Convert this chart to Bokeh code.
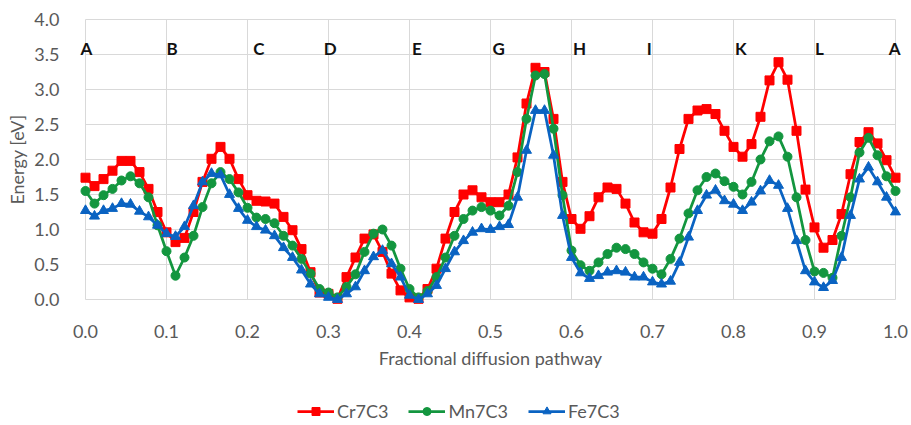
import numpy as np
from bokeh.plotting import figure
from bokeh.models import (ColumnDataSource, FixedTicker, Legend, LegendItem,
                          Range1d, NumeralTickFormatter)
from bokeh.core.properties import value
from bokeh.embed import file_html
from bokeh.resources import INLINE

# ---- data ----
cr7c3 = [1.74, 1.62, 1.72, 1.84, 1.98, 1.98, 1.82, 1.58, 1.25, 0.96,
         0.82, 0.88, 1.25, 1.68, 2.01, 2.18, 2.01, 1.72, 1.49, 1.41,
         1.40, 1.37, 1.18, 0.99, 0.72, 0.39, 0.10, 0.08, 0.01, 0.32,
         0.60, 0.87, 0.93, 0.68, 0.37, 0.13, 0.03, 0.01, 0.15, 0.44,
         0.87, 1.25, 1.50, 1.56, 1.46, 1.39, 1.39, 1.50, 2.03, 2.80,
         3.31, 3.25, 2.58, 1.68, 1.15, 1.01, 1.19, 1.46, 1.60, 1.58,
         1.37, 1.10, 0.96, 0.94, 1.15, 1.60, 2.15, 2.58, 2.70, 2.72,
         2.65, 2.41, 2.18, 2.04, 2.22, 2.61, 3.13, 3.39, 3.14, 2.41,
         1.57, 1.03, 0.74, 0.85, 1.22, 1.79, 2.25, 2.39, 2.23, 1.99,
         1.74]
mn7c3 = [1.55, 1.37, 1.49, 1.58, 1.70, 1.76, 1.66, 1.46, 1.06, 0.69,
         0.34, 0.60, 0.91, 1.32, 1.66, 1.82, 1.72, 1.53, 1.31, 1.17,
         1.15, 1.09, 0.91, 0.77, 0.58, 0.37, 0.15, 0.10, 0.03, 0.18,
         0.36, 0.68, 0.94, 1.00, 0.77, 0.44, 0.15, 0.03, 0.12, 0.32,
         0.60, 0.91, 1.15, 1.27, 1.32, 1.27, 1.20, 1.34, 1.82, 2.58,
         3.20, 3.22, 2.44, 1.49, 0.70, 0.49, 0.41, 0.53, 0.65, 0.74,
         0.72, 0.65, 0.53, 0.44, 0.36, 0.58, 0.87, 1.23, 1.56, 1.75,
         1.80, 1.69, 1.61, 1.50, 1.68, 2.00, 2.26, 2.33, 2.04, 1.46,
         0.85, 0.40, 0.38, 0.31, 0.91, 1.46, 2.10, 2.31, 2.06, 1.76,
         1.55]
fe7c3 = [1.27, 1.19, 1.27, 1.30, 1.37, 1.36, 1.26, 1.18, 1.06, 0.94,
         0.90, 1.04, 1.34, 1.68, 1.80, 1.78, 1.50, 1.30, 1.13, 1.04,
         0.99, 0.91, 0.74, 0.60, 0.42, 0.22, 0.08, 0.03, 0.00, 0.08,
         0.18, 0.41, 0.61, 0.70, 0.51, 0.32, 0.06, 0.00, 0.08, 0.20,
         0.44, 0.68, 0.84, 0.96, 1.01, 1.00, 1.04, 1.07, 1.46, 2.13,
         2.70, 2.70, 2.06, 1.20, 0.60, 0.38, 0.30, 0.34, 0.39, 0.41,
         0.39, 0.32, 0.32, 0.25, 0.22, 0.26, 0.53, 0.89, 1.27, 1.49,
         1.56, 1.41, 1.36, 1.27, 1.39, 1.55, 1.70, 1.63, 1.30, 0.84,
         0.41, 0.25, 0.17, 0.27, 0.60, 1.20, 1.72, 1.89, 1.68, 1.46,
         1.25]
fraction = list(np.linspace(0.0, 1.0, len(cr7c3)))

path_labels = ["A", "B", "C", "D", "E", "G", "H", "I", "K", "L", "A"]
path_pos = [0.001, 0.107, 0.214, 0.302, 0.409, 0.510, 0.610, 0.696, 0.809, 0.906, 0.999]
path_level = [3.59] * len(path_labels)

x_ticks = [0.0, 0.1, 0.2, 0.3, 0.4, 0.5, 0.6, 0.7, 0.8, 0.9, 1.0]
y_ticks = [0.0, 0.5, 1.0, 1.5, 2.0, 2.5, 3.0, 3.5, 4.0]

FONT = "Lato"
GRAY = "#595959"
GRID = "#d9d9d9"

W, H = 911, 425
# plot area in the picture: x 85..895 px for 0..1, y 299..19 px for 0..4
PX_L, PX_R, PX_B, PX_T = 85.0, 895.0, 299.0, 19.0
sx = (PX_R - PX_L) / 1.0
sy = (PX_B - PX_T) / 4.0
x_range = Range1d(-PX_L / sx, (W - PX_L) / sx)
y_range = Range1d(-(H - PX_B) / sy, PX_B / sy)

src = ColumnDataSource(dict(x=fraction, cr=cr7c3, mn=mn7c3, fe=fe7c3))

p = figure(width=W, height=H, output_backend="svg", toolbar_location=None,
           x_range=x_range, y_range=y_range, min_border=0)
p.outline_line_color = None
p.background_fill_color = "white"
p.border_fill_color = "white"
p.grid.visible = False

# grid lines limited to the chart area
p.segment(x0=x_ticks, y0=[0.0] * len(x_ticks), x1=x_ticks, y1=[4.0] * len(x_ticks),
          line_color=GRID, line_width=1)
p.segment(x0=[0.0] * len(y_ticks), y0=y_ticks, x1=[1.0] * len(y_ticks), y1=y_ticks,
          line_color=GRID, line_width=1)

p.xaxis.ticker = FixedTicker(ticks=x_ticks)
p.yaxis.ticker = FixedTicker(ticks=y_ticks)
p.xaxis.formatter = NumeralTickFormatter(format="0.0")
p.yaxis.formatter = NumeralTickFormatter(format="0.0")
p.xaxis.fixed_location = 0.0
p.yaxis.fixed_location = 0.0
p.xaxis.bounds = (0.0, 1.0)
p.yaxis.bounds = (0.0, 4.0)
for ax in (p.xaxis, p.yaxis):
    ax.axis_line_color = None
    ax.major_tick_line_color = None
    ax.minor_tick_line_color = None
    ax.major_label_text_font = FONT
    ax.major_label_text_font_size = "18px"
    ax.major_label_text_color = GRAY
    ax.axis_label_text_font = FONT
    ax.axis_label_text_font_size = "18px"
    ax.axis_label_text_font_style = "normal"
    ax.axis_label_text_color = GRAY
p.xaxis.axis_label = "Fractional diffusion pathway"
p.yaxis.axis_label = "Energy [eV]"
p.xaxis.major_label_standoff = 19
p.yaxis.major_label_standoff = 20
p.xaxis.axis_label_standoff = 6
p.yaxis.axis_label_standoff = 3

series = [("Cr7C3", "cr", "#ff0000", "square", 9),
          ("Mn7C3", "mn", "#13963f", "circle", 9),
          ("Fe7C3", "fe", "#0a63c2", "triangle", 10)]
items = []
for label, col, color, marker, size in series:
    l = p.line("x", col, source=src, line_color=color, line_width=2.75)
    s = p.scatter("x", col, source=src, marker=marker, size=size,
                  fill_color=color, line_color=color)
    items.append(LegendItem(label=label, renderers=[l, s]))

p.text(x=path_pos, y=path_level, text=path_labels,
       text_font=value(FONT), text_font_style="bold", text_font_size="17px",
       text_align="center", text_baseline="middle", text_color="#111111")

legend = Legend(items=items, orientation="horizontal", location=(297, 3),
                padding=0, margin=0, spacing=20, glyph_width=37, glyph_height=20,
                label_height=20, label_standoff=3,
                label_text_font=FONT, label_text_font_size="18px",
                label_text_color=GRAY, border_line_color=None,
                background_fill_alpha=0)
p.add_layout(legend)

open("out.html", "w").write(file_html(p, INLINE))
